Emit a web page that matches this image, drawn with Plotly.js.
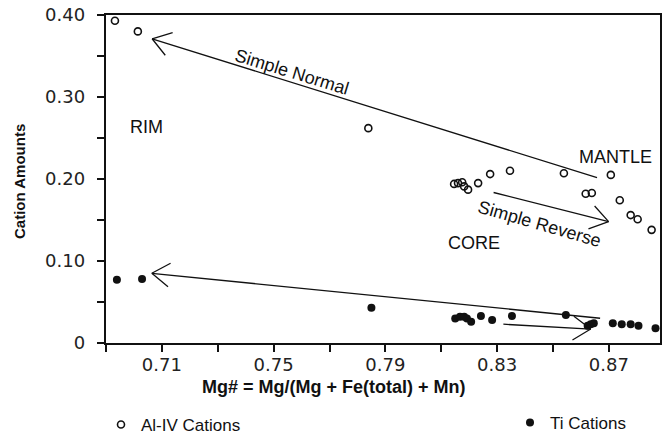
<!DOCTYPE html>
<html>
<head>
<meta charset="utf-8">
<script src="https://cdn.plot.ly/plotly-3.0.1.min.js"></script>
<style>html,body{margin:0;padding:0;background:#fff;}#chart{width:667px;height:434px;}</style>
</head>
<body>
<div id="chart"></div>
<script>
// Al-IV cations (open circles)
const alX = [0.6932, 0.7014, 0.7839, 0.8146, 0.8160, 0.8175, 0.8182, 0.8196, 0.8232, 0.8275, 0.8346, 0.8539, 0.8617, 0.8639, 0.8707, 0.8739, 0.8778, 0.8803, 0.8853];
const alY = [0.393, 0.380, 0.262, 0.194, 0.195, 0.196, 0.191, 0.187, 0.195, 0.206, 0.210, 0.207, 0.182, 0.183, 0.205, 0.174, 0.156, 0.151, 0.138];
// Ti cations (filled circles)
const tiX = [0.6939, 0.7029, 0.7850, 0.8150, 0.8167, 0.8182, 0.8192, 0.8207, 0.8242, 0.8282, 0.8353, 0.8546, 0.8624, 0.8635, 0.8646, 0.8714, 0.8746, 0.8778, 0.8806, 0.8867];
const tiY = [0.077, 0.078, 0.043, 0.030, 0.032, 0.032, 0.030, 0.026, 0.033, 0.028, 0.033, 0.034, 0.021, 0.023, 0.024, 0.024, 0.023, 0.023, 0.021, 0.018];

// Trend arrows: from (tail) -> to (head)
const arrowNames = ['Al normal', 'Al reverse', 'Ti normal', 'Ti reverse'];
const arrowFromX = [0.8663, 0.8282, 0.8674, 0.8317];
const arrowFromY = [0.201, 0.184, 0.030, 0.023];
const arrowToX = [0.7065, 0.8699, 0.7064, 0.8635];
const arrowToY = [0.371, 0.148, 0.085, 0.017];

// Zone labels
const labelText = ['RIM', 'MANTLE', 'CORE', 'Simple Normal', 'Simple Reverse'];
const labelX = [0.7045, 0.8722, 0.8217, 0.7565, 0.8453];
const labelY = [0.264, 0.227, 0.122, 0.331, 0.145];
const labelAngle = [0, 0, 0, 17, 16];

const xTickVals = [0.69, 0.71, 0.73, 0.75, 0.77, 0.79, 0.81, 0.83, 0.85, 0.87];
const xTickText = ['', '0.71', '', '0.75', '', '0.79', '', '0.83', '', '0.87'];
const yTickVals = [0, 0.05, 0.10, 0.15, 0.20, 0.25, 0.30, 0.35, 0.40];
const yTickText = ['0', '', '0.10', '', '0.20', '', '0.30', '', '0.40'];

const xTitle = 'Mg# = Mg/(Mg + Fe(total) + Mn)';
const yTitle = 'Cation Amounts';

const W = 667, H = 434;
const M = {l: 106, r: 7, t: 15, b: 91, autoexpand: false};
const xRange = [0.69, 0.8883];
const yRange = [0, 0.40];
const PW = W - M.l - M.r, PH = H - M.t - M.b;
const kx = PW / (xRange[1] - xRange[0]);
const ky = PH / (yRange[1] - yRange[0]);

const sans = 'Liberation Sans, Arial, sans-serif';
const tickFont = {family: 'DejaVu Sans', size: 18, color: '#222'};
const textFont = {family: sans, size: 18, color: '#111'};

const annotations = [];
for (let i = 0; i < arrowNames.length; i++) {
  annotations.push({
    x: arrowToX[i], y: arrowToY[i], xref: 'x', yref: 'y',
    ax: arrowFromX[i], ay: arrowFromY[i], axref: 'x', ayref: 'y',
    showarrow: true, arrowhead: 0, arrowwidth: 1.3, arrowcolor: '#111', text: ''
  });
  const dx = (arrowFromX[i] - arrowToX[i]) * kx;
  const dy = -(arrowFromY[i] - arrowToY[i]) * ky;
  const len = Math.hypot(dx, dy);
  const ux = dx / len, uy = dy / len;
  const armLen = 23, ang = 34 * Math.PI / 180;
  [ang, -ang].forEach(a => {
    const rx = ux * Math.cos(a) - uy * Math.sin(a);
    const ry = ux * Math.sin(a) + uy * Math.cos(a);
    annotations.push({
      x: arrowToX[i], y: arrowToY[i], xref: 'x', yref: 'y',
      ax: rx * armLen, ay: ry * armLen, axref: 'pixel', ayref: 'pixel',
      showarrow: true, arrowhead: 0, arrowwidth: 1.3, arrowcolor: '#111', text: ''
    });
  });
}
for (let i = 0; i < labelText.length; i++) {
  annotations.push({
    x: labelX[i], y: labelY[i], xref: 'x', yref: 'y', text: labelText[i],
    showarrow: false, textangle: labelAngle[i], font: textFont,
    xanchor: 'center', yanchor: 'middle'
  });
}
// axis titles, placed as in the original (x title left of centre)
annotations.push({
  x: (334 - M.l) / PW, y: (H - M.b - 387) / PH, xref: 'paper', yref: 'paper',
  xanchor: 'center', yanchor: 'middle',
  text: '<b>' + xTitle + '</b>', showarrow: false,
  font: {family: sans, size: 18, color: '#111'}
});
annotations.push({
  x: (19 - M.l) / PW, y: (H - M.b - 182) / PH, xref: 'paper', yref: 'paper',
  xanchor: 'center', yanchor: 'middle', textangle: -90,
  text: '<b>' + yTitle + '</b>', showarrow: false,
  font: {family: sans, size: 15, color: '#111'}
});

const traces = [
  {
    x: alX, y: alY, type: 'scatter', mode: 'markers', name: 'Al-IV Cations',
    marker: {symbol: 'circle-open', size: 7, color: '#111', line: {width: 1.6, color: '#111'}},
    legend: 'legend', cliponaxis: false
  },
  {
    x: tiX, y: tiY, type: 'scatter', mode: 'markers', name: 'Ti Cations',
    marker: {symbol: 'circle', size: 8, color: '#111'},
    legend: 'legend2', cliponaxis: false
  }
];

const axisCommon = {
  showline: true, linecolor: '#111', linewidth: 2.2, mirror: true,
  ticks: 'outside', ticklen: 7, tickwidth: 2, tickcolor: '#111',
  showgrid: false, zeroline: false, tickmode: 'array', tickfont: tickFont
};

const layout = {
  width: W, height: H,
  margin: M,
  paper_bgcolor: '#fff', plot_bgcolor: '#fff',
  showlegend: true,
  xaxis: Object.assign({}, axisCommon, {
    range: xRange, tickvals: xTickVals, ticktext: xTickText, ticklabelstandoff: -3
  }),
  yaxis: Object.assign({}, axisCommon, {
    range: yRange, tickvals: yTickVals, ticktext: yTickText, ticklabelstandoff: 8
  }),
  legend: {
    xref: 'container', yref: 'container', x: 101 / W, y: 1 - 425 / H,
    xanchor: 'left', yanchor: 'middle', bgcolor: 'rgba(0,0,0,0)', itemwidth: 30,
    font: {family: sans, size: 17, color: '#111'}
  },
  legend2: {
    xref: 'container', yref: 'container', x: 510 / W, y: 1 - 423 / H,
    xanchor: 'left', yanchor: 'middle', bgcolor: 'rgba(0,0,0,0)', itemwidth: 30,
    font: {family: sans, size: 17, color: '#111'}
  },
  annotations: annotations
};

Plotly.newPlot('chart', traces, layout, {displayModeBar: false, staticPlot: true});
</script>
</body>
</html>
